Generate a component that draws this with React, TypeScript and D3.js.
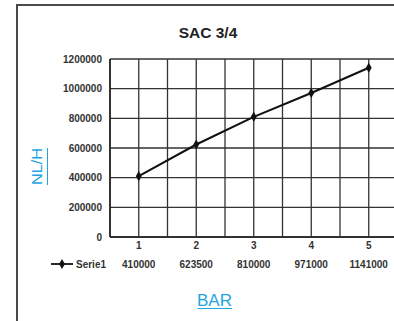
import React from 'react';
import * as d3 from 'd3';

const categories = ['1', '2', '3', '4', '5'];
const serie1 = [410000, 623500, 810000, 971000, 1141000];
const yTicks = [0, 200000, 400000, 600000, 800000, 1000000, 1200000];

const W = 394;
const H = 321;
const plot = {left: 110, top: 59, right: 397.5, bottom: 237};
const blue = '#1fa5e3';
const font = "'Liberation Sans', Arial, sans-serif";

function App() {
  const x = d3.scaleBand<string>()
    .domain(categories)
    .range([plot.left, plot.right]);
  const y = d3.scaleLinear()
    .domain([0, 1200000])
    .range([plot.bottom, plot.top]);

  const cx = (c: string) => (x(c) as number) + x.bandwidth() / 2;

  const line = d3.line<number>()
    .x((d, i) => cx(categories[i]))
    .y(d => y(d));

  // gridlines on band edges and band centres
  const vLines: number[] = [];
  categories.forEach(c => {
    vLines.push(x(c) as number);
    vLines.push(cx(c));
  });
  vLines.push(plot.right);

  const diamond = d3.symbol(d3.symbolDiamond, 30)();

  return (
    <svg width={W} height={H} style={{position: 'absolute', left: 0, top: 0, fontFamily: font}}>
      <rect width={W} height={H} fill="#fff"/>
      <path d={`M17,${H} V5 H${W}`} fill="none" stroke="#4a4a4a" strokeWidth={2}/>

      <text x={208} y={38} textAnchor="middle" fontSize={15.5} fontWeight="bold" fill="#222">SAC 3/4</text>

      {yTicks.map(t => (
        <line key={'h' + t} x1={plot.left} x2={W} y1={y(t)} y2={y(t)} stroke="#333" strokeWidth={1.3}/>
      ))}
      {vLines.map((v, i) => (
        <line key={'v' + i} x1={v} x2={v} y1={plot.top} y2={plot.bottom} stroke="#333" strokeWidth={1.3}/>
      ))}
      <line x1={plot.left} x2={plot.left} y1={plot.top} y2={plot.bottom} stroke="#222" strokeWidth={1.6}/>
      <line x1={plot.left} x2={W} y1={plot.bottom} y2={plot.bottom} stroke="#222" strokeWidth={1.6}/>

      {yTicks.map(t => (
        <text key={'yt' + t} x={102} y={y(t) + 3.5} textAnchor="end" fontSize={10} fontWeight="bold" fill="#333">{t}</text>
      ))}

      {categories.map(c => (
        <text key={'xl' + c} x={cx(c)} y={249} textAnchor="middle" fontSize={10} fontWeight="bold" fill="#333">{c}</text>
      ))}

      <path d={line(serie1) || ''} fill="none" stroke="#111" strokeWidth={2}/>
      {serie1.map((v, i) => (
        <path key={'m' + i} d={diamond || ''} transform={`translate(${cx(categories[i])},${y(v)})`} fill="#111"/>
      ))}

      {/* legend key + data table row */}
      <line x1={51} x2={73} y1={264} y2={264} stroke="#111" strokeWidth={1.8}/>
      <path d={diamond || ''} transform="translate(62,264)" fill="#111"/>
      <text x={76} y={267.5} fontSize={10} fontWeight="bold" fill="#333">Serie1</text>
      {serie1.map((v, i) => (
        <text key={'dv' + i} x={cx(categories[i])} y={267.5} textAnchor="middle" fontSize={10} fontWeight="bold" fill="#333">{v}</text>
      ))}

      <g transform="translate(42,166.5) rotate(-90)">
        <text x={0} y={0} textAnchor="middle" fontSize={14.5} textLength={37} lengthAdjust="spacingAndGlyphs" fill={blue}>NL/H</text>
        <line x1={-18.5} x2={18.5} y1={5.5} y2={5.5} stroke={blue} strokeWidth={1}/>
      </g>
      <text x={214.5} y={306} textAnchor="middle" fontSize={17} fill={blue}>BAR</text>
      <line x1={197.5} x2={232} y1={308.5} y2={308.5} stroke={blue} strokeWidth={1}/>
    </svg>
  );
}

export default App;
